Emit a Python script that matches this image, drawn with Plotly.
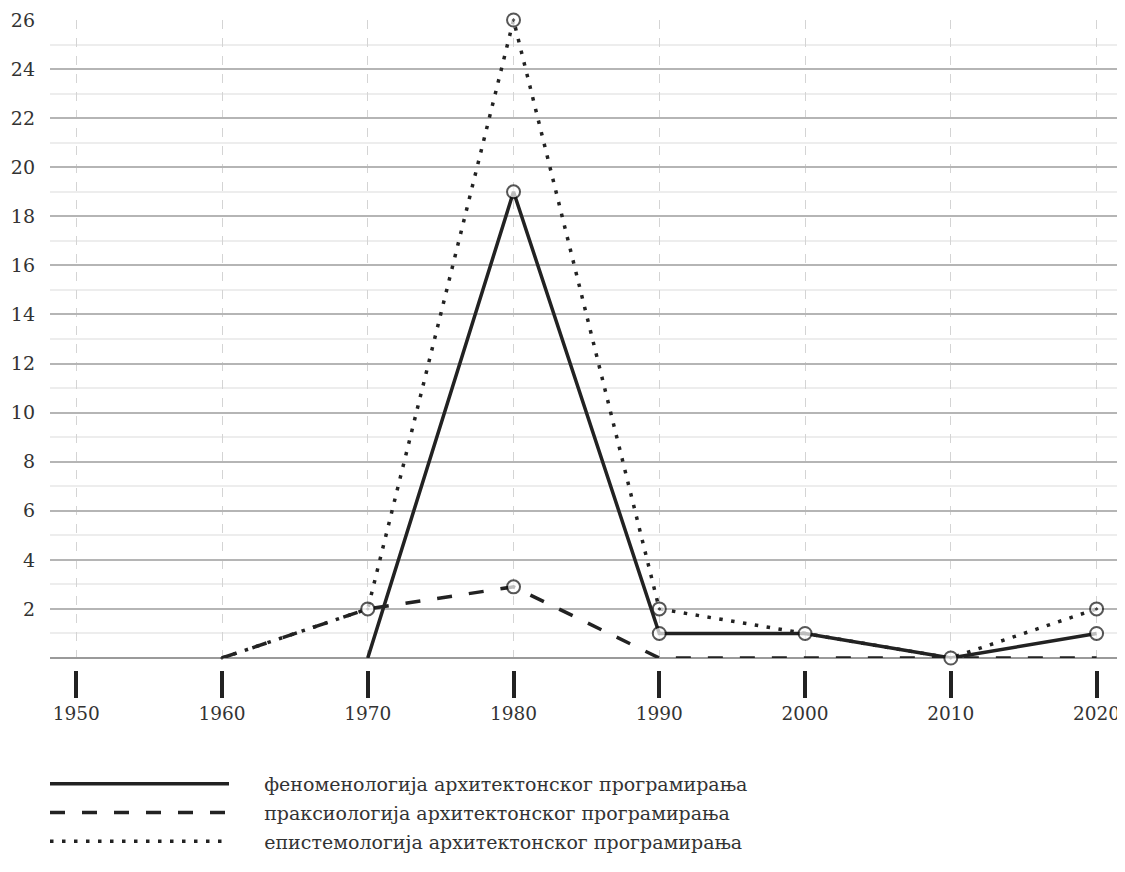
import plotly.graph_objects as go

# ---- data ----
decades = [1950, 1960, 1970, 1980, 1990, 2000, 2010, 2020]
y_ticks = [2, 4, 6, 8, 10, 12, 14, 16, 18, 20, 22, 24, 26]

series_names = [
    "феноменологија архитектонског програмирања",
    "праксиологија архитектонског програмирања",
    "епистемологија архитектонског програмирања",
]
phen_years = [1970, 1980, 1990, 2000, 2010, 2020]
phen_vals = [0, 19, 1, 1, 0, 1]
phen_marked = [1980, 1990, 2000, 2010, 2020]

prax_years = [1960, 1970, 1980, 1990, 2000, 2010, 2020]
prax_vals = [0, 2, 2.9, 0, 0, 0, 0]
prax_marked = [1970, 1980]

epis_years = [1960, 1970, 1980, 1990, 2000, 2010, 2020]
epis_vals = [0, 2, 26, 2, 1, 0, 2]
epis_marked = [1980, 1990, 2020]

INK = "#222222"
FONT = "DejaVu Serif"
DASH = "15px,17px"
DOT = "3.5px,8.5px"

fig = go.Figure()

def add_series(name, xs, ys, marked, dash, symbol):
    sizes = [13 if x in marked else 0 for x in xs]
    fig.add_trace(go.Scatter(
        x=xs, y=ys, mode="lines+markers", name=name, showlegend=False,
        line=dict(color=INK, width=3.5, dash=dash),
        marker=dict(size=sizes, symbol=symbol, color="white",
                    line=dict(color="#111111", width=2)),
        cliponaxis=False,
    ))

add_series(series_names[2], epis_years, epis_vals, epis_marked, DOT, "circle-dot")
add_series(series_names[1], prax_years, prax_vals, prax_marked, DASH, "circle")
add_series(series_names[0], phen_years, phen_vals, phen_marked, "solid", "circle")

# legend-only traces
PAD = "\u00a0" * 5
for i, (nm, dash) in enumerate(zip(series_names, ["solid", DASH, DOT])):
    fig.add_trace(go.Scatter(
        x=[None], y=[None], mode="lines", name=PAD + nm, legendgroup=str(i),
        line=dict(color=INK, width=3.5, dash=dash),
    ))

# page has an 8px body margin; figure is sized/positioned to compensate
OFF = 8
W, H = 1125 - OFF, 872 - 2 * OFF
left_px = 50 - OFF
top_px, bottom_px, axis_px = 20 - OFF, 658 - OFF, 670 - OFF
span = H - top_px
plot_w = W - left_px

fig.update_layout(
    width=W, height=H,
    margin=dict(l=left_px, r=0, t=top_px, b=0, autoexpand=False),
    plot_bgcolor="white", paper_bgcolor="white",
    font=dict(family=FONT, size=19, color="#333333"),
    xaxis=dict(
        range=[1948.2, 2021.95], tickvals=decades,
        ticktext=[str(d) for d in decades],
        anchor="free", position=(H - axis_px) / span, automargin=False,
        showline=False, zeroline=False,
        ticks="outside", ticklen=27, tickwidth=3.5, tickcolor=INK,
        showgrid=True, gridcolor="#d4d4d4", griddash="dash", gridwidth=1,
        tickfont=dict(family=FONT, size=18.5, color="#333333"),
    ),
    yaxis=dict(
        range=[0, 26], domain=[(H - bottom_px) / span, 1], automargin=False,
        tickvals=y_ticks, ticktext=[str(v) for v in y_ticks],
        showgrid=True, gridcolor="#b5b5b5", gridwidth=1.5,
        minor=dict(dtick=1, showgrid=True, gridcolor="#ededed", gridwidth=1.5),
        zeroline=True, zerolinecolor="#9a9a9a", zerolinewidth=2,
        showline=False, ticks="", ticklabelstandoff=14,
        tickfont=dict(family=FONT, size=19, color="#333333"),
    ),
    legend=dict(
        x=(37 - left_px) / plot_w, xanchor="left",
        y=(H - (765 - OFF)) / span, yanchor="top",
        orientation="v", itemwidth=179, tracegroupgap=1,
        font=dict(family=FONT, size=19, color="#333333"),
        bgcolor="rgba(0,0,0,0)",
    ),
    showlegend=True,
)

fig.write_html("out.html")
